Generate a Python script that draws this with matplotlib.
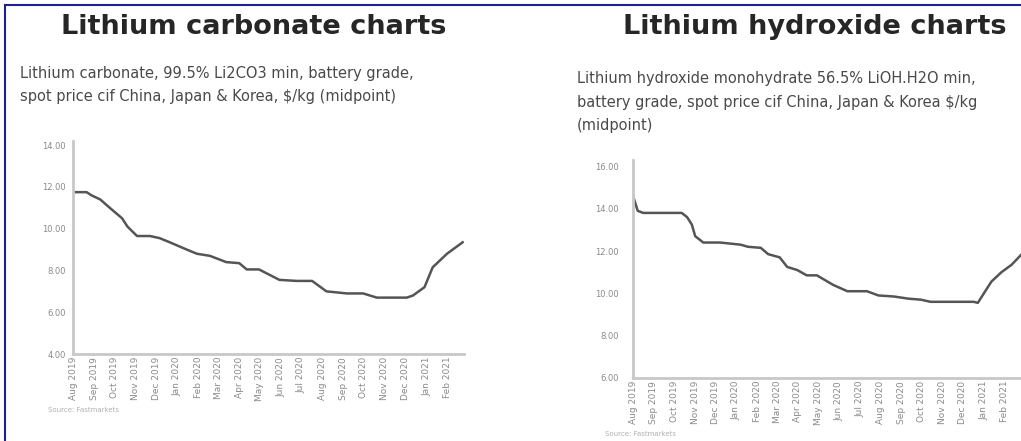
import pandas as pd
import matplotlib.pyplot as plt
import matplotlib.dates as mdates
from matplotlib.lines import Line2D

# lithium carbonate 99.5% Li2CO3, cif China/Japan/Korea, $/kg (midpoint)
carb_dates = ['2019-08-01', '2019-08-21', '2019-08-28', '2019-09-10', '2019-09-24',
              '2019-10-12', '2019-10-20', '2019-11-03', '2019-11-22', '2019-12-06',
              '2019-12-21', '2020-01-15', '2020-01-30', '2020-02-18', '2020-03-13',
              '2020-04-01', '2020-04-12', '2020-04-30', '2020-05-30', '2020-06-24',
              '2020-07-17', '2020-08-07', '2020-09-06', '2020-09-30', '2020-10-20',
              '2020-12-03', '2020-12-12', '2020-12-29', '2021-01-10', '2021-01-31',
              '2021-02-23']
carb_price = [11.75, 11.75, 11.6, 11.4, 11.0,
              10.5, 10.1, 9.65, 9.65, 9.55,
              9.35, 9.0, 8.8, 8.7, 8.4,
              8.35, 8.05, 8.05, 7.55, 7.5,
              7.5, 7.0, 6.9, 6.9, 6.7,
              6.7, 6.8, 7.2, 8.15, 8.8,
              9.35]

# lithium hydroxide monohydrate 56.5% LiOH.H2O, cif China/Japan/Korea, $/kg (midpoint)
hyd_dates = ['2019-08-01', '2019-08-08', '2019-08-16', '2019-10-12', '2019-10-20',
             '2019-10-27', '2019-11-01', '2019-11-13', '2019-12-08', '2020-01-07',
             '2020-01-18', '2020-02-06', '2020-02-17', '2020-03-05', '2020-03-16',
             '2020-03-31', '2020-04-14', '2020-04-29', '2020-05-23', '2020-06-13',
             '2020-07-12', '2020-07-29', '2020-08-21', '2020-09-11', '2020-09-30',
             '2020-10-14', '2020-12-17', '2020-12-23', '2021-01-12', '2021-01-27',
             '2021-02-11', '2021-02-26']
hyd_price = [14.6, 13.9, 13.8, 13.8, 13.6,
             13.25, 12.7, 12.4, 12.4, 12.3,
             12.2, 12.15, 11.85, 11.7, 11.25,
             11.1, 10.85, 10.85, 10.4, 10.1,
             10.1, 9.9, 9.85, 9.75, 9.7,
             9.6, 9.6, 9.55, 10.55, 11.0,
             11.35, 11.85]

carb_ticks = [4, 6, 8, 10, 12, 14]
hyd_ticks = [6, 8, 10, 12, 14, 16]
month_ticks = pd.date_range('2019-08-01', '2021-02-01', freq='MS')

TITLE_COLOR = '#262626'
TEXT_COLOR = '#4a4a4a'
AXIS_COLOR = '#c8c8c8'
LABEL_COLOR = '#8a8a8a'
LINE_COLOR = '#555555'

fig = plt.figure(figsize=(10.21, 4.41), dpi=100)
W, H = 1021, 441


def fx(px):
    return px / W


def fy(py):
    return 1 - py / H


def price_panel(rect, dates, prices, yticks, ylim, xlim, ypad):
    ax = fig.add_axes(rect)
    ax.plot(pd.to_datetime(dates), prices, color=LINE_COLOR, lw=1.8)
    ax.set_ylim(*ylim)
    ax.set_xlim(pd.Timestamp(xlim[0]), pd.Timestamp(xlim[1]))
    ax.set_yticks(yticks)
    ax.set_yticklabels([f'{v:.2f}' for v in yticks])
    ax.set_xticks(month_ticks)
    ax.xaxis.set_major_formatter(mdates.DateFormatter('%b %Y'))
    ax.tick_params(axis='x', rotation=90, labelsize=6.5, colors=LABEL_COLOR,
                   length=0, pad=2)
    ax.tick_params(axis='y', labelsize=6, colors=LABEL_COLOR, length=0, pad=ypad)
    for s in ['top', 'right']:
        ax.spines[s].set_visible(False)
    for s in ['left', 'bottom']:
        ax.spines[s].set_color(AXIS_COLOR)
        ax.spines[s].set_linewidth(2)
    ax.patch.set_alpha(0)
    return ax


ax1 = price_panel([fx(73), fy(354), fx(464 - 73), (354 - 141) / H],
                  carb_dates, carb_price, carb_ticks, (4, 14.2),
                  ('2019-08-01', '2021-02-25'), 5)
ax2 = price_panel([fx(633), fy(378), fx(1040 - 633), (378 - 160) / H],
                  hyd_dates, hyd_price, hyd_ticks, (6, 16.3),
                  ('2019-08-01', '2021-03-25'), 10)

# headings
fig.text(fx(254), fy(27), 'Lithium carbonate charts', ha='center', va='center',
         fontsize=19.5, fontweight='bold', color=TITLE_COLOR)
fig.text(fx(815), fy(27), 'Lithium hydroxide charts', ha='center', va='center',
         fontsize=19.5, fontweight='bold', color=TITLE_COLOR)

fig.text(fx(20), fy(85), 'Lithium carbonate, 99.5% Li2CO3 min, battery grade,\n'
         'spot price cif China, Japan & Korea, $/kg (midpoint)',
         ha='left', va='center', fontsize=10.5, color=TEXT_COLOR, linespacing=1.7)
fig.text(fx(577), fy(102), 'Lithium hydroxide monohydrate 56.5% LiOH.H2O min,\n'
         'battery grade, spot price cif China, Japan & Korea $/kg\n(midpoint)',
         ha='left', va='center', fontsize=10.5, color=TEXT_COLOR, linespacing=1.7)

fig.text(fx(48), fy(410), 'Source: Fastmarkets', ha='left', va='center',
         fontsize=5, color='#b0b0b0')
fig.text(fx(605), fy(434), 'Source: Fastmarkets', ha='left', va='center',
         fontsize=5, color='#b0b0b0')

# page frame (top and left edge)
fig.add_artist(Line2D([fx(5), 1], [fy(5), fy(5)], color='#1f1f9a', lw=1.5))
fig.add_artist(Line2D([fx(5), fx(5)], [0, fy(5)], color='#1f1f9a', lw=1.5))

fig.savefig('out.png', dpi=100)
